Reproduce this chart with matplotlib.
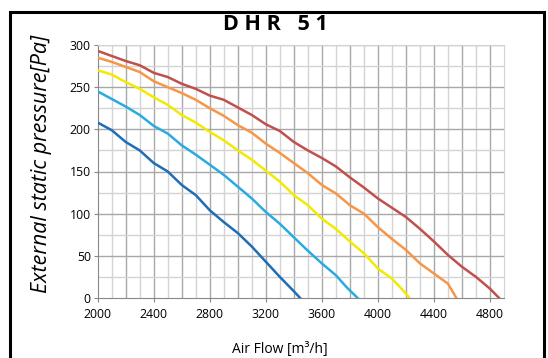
import numpy as np
import matplotlib.pyplot as plt
from matplotlib.patches import Rectangle

# curves: air flow [m3/h] vs static pressure [Pa]
red_x = [2000, 2100, 2200, 2300, 2400, 2500, 2600, 2700, 2800, 2900, 3000, 3100, 3200, 3300, 3400,
         3500, 3600, 3700, 3800, 3900, 4000, 4100, 4200, 4300, 4400, 4500, 4600, 4700, 4800, 4865]
red_y = [293, 287, 281, 276, 267, 262, 254, 248, 240, 235, 226, 217, 206, 198, 185,
         175, 166, 156, 143, 131, 118, 107, 96, 82, 67, 51, 37, 25, 11, 0]

orange_x = [2000, 2100, 2200, 2300, 2400, 2500, 2600, 2700, 2800, 2900, 3000, 3100, 3200, 3300,
            3400, 3500, 3600, 3700, 3800, 3900, 4000, 4100, 4200, 4300, 4400, 4500, 4560]
orange_y = [285, 280, 274, 268, 257, 250, 243, 235, 225, 216, 205, 196, 183, 172,
            160, 148, 134, 124, 110, 100, 84, 70, 57, 41, 29, 17, 0]

yellow_x = [2000, 2100, 2200, 2300, 2400, 2500, 2600, 2700, 2800, 2900, 3000, 3100, 3200, 3300,
            3400, 3500, 3600, 3700, 3800, 3900, 4000, 4100, 4180, 4225]
yellow_y = [270, 265, 256, 248, 238, 229, 217, 208, 197, 187, 175, 164, 151, 138,
            122, 110, 94, 82, 67, 53, 35, 23, 9, 0]

lblue_x = [2000, 2100, 2200, 2300, 2400, 2500, 2600, 2700, 2800, 2900, 3000, 3100, 3200, 3300,
           3400, 3500, 3600, 3700, 3775, 3855]
lblue_y = [245, 236, 227, 217, 204, 195, 181, 170, 158, 146, 132, 118, 102, 88,
           72, 56, 41, 27, 13, 0]

dblue_x = [2000, 2100, 2200, 2300, 2400, 2500, 2600, 2700, 2800, 2900, 3000, 3100, 3200, 3300,
           3400, 3445]
dblue_y = [208, 199, 185, 175, 160, 150, 134, 122, 104, 90, 77, 61, 43, 25, 8, 0]

xticks = [2000, 2400, 2800, 3200, 3600, 4000, 4400, 4800]
yticks = [0, 50, 100, 150, 200, 250, 300]

fig = plt.figure(figsize=(5.48, 3.58), dpi=100)
ax = fig.add_axes([97.7/548, 1-298/358, (504-97.7)/548, (298-45)/358])

# grid: light every 100 / 25, darker every 200 / 50
for x in range(2100, 4900, 100):
    c = '#a8a8a8' if x % 200 == 0 else '#d4d4d4'
    ax.axvline(x, color=c, lw=1.0, zorder=1)
for y in range(25, 301, 25):
    c = '#a8a8a8' if y % 50 == 0 else '#d4d4d4'
    ax.axhline(y, color=c, lw=1.0, zorder=1)

lw = 1.8
ax.plot(red_x, red_y, color='#c0504d', lw=lw, zorder=3)
ax.plot(orange_x, orange_y, color='#f79646', lw=lw, zorder=3)
ax.plot(yellow_x, yellow_y, color='#f2ea00', lw=lw, zorder=3)
ax.plot(lblue_x, lblue_y, color='#29abe2', lw=lw, zorder=3)
ax.plot(dblue_x, dblue_y, color='#1f6db4', lw=lw, zorder=3)

ax.set_xlim(2000, 4900)
ax.set_ylim(0, 300)
ax.set_xticks(xticks)
ax.set_yticks(yticks)
ax.tick_params(labelsize=8.8, length=3, color='#888888', width=0.8, pad=2)
for lab in ax.get_xticklabels() + ax.get_yticklabels():
    lab.set_family('Open Sans')
ax.tick_params(axis='x', pad=4)
for s in ['top', 'right']:
    ax.spines[s].set_color('#d4d4d4')
for s in ['left', 'bottom']:
    ax.spines[s].set_color('#888888')

fig.text(0.503, 1-25/358, 'D H R   5 1', ha='center', va='center', fontsize=15.5,
         fontweight='bold', family='Open Sans')
fig.text(42/548, 1-164/358, 'External static pressure[Pa]', rotation=90, ha='center',
         va='center', fontsize=15.5, style='italic', family='Open Sans')
fig.text(280/548, 1-350/358, 'Air Flow [m³/h]', ha='center', va='center', fontsize=10,
         family='Open Sans')

fig.patches.append(Rectangle((10/548, -0.1), (544-10)/548, 1-12/358+0.1,
                             transform=fig.transFigure, fill=False, ec='black', lw=2.2))

fig.savefig('out.png', dpi=100)
